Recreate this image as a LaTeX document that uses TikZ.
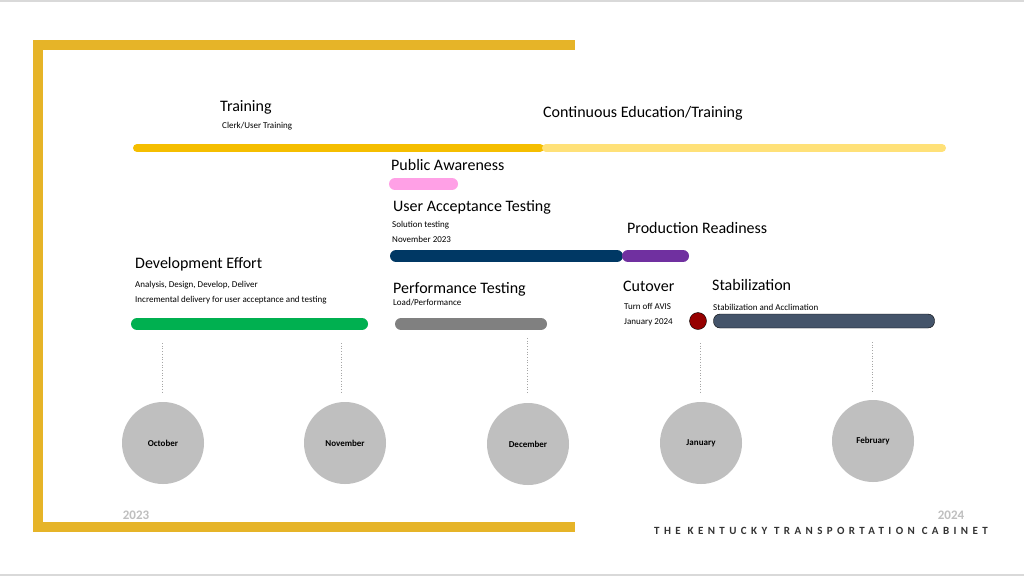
\documentclass[tikz,border=0pt]{standalone}
\usepackage{fontspec}
\setmainfont{Carlito}
\begin{document}
\begin{tikzpicture}[x=1pt,y=-1pt,
  big/.style={anchor=west,inner sep=0pt,font=\fontsize{16}{18}\selectfont},
  small/.style={anchor=west,inner sep=0pt,font=\fontsize{9}{10}\selectfont},
  bar/.style={line width=12pt,line cap=round},
  month/.style={circle,fill=mgray,minimum size=82pt,inner sep=0pt,font=\bfseries\fontsize{9}{10}\selectfont},
  vline/.style={draw=gray!70,dotted,line width=0.7pt}]
\definecolor{gold}{RGB}{230,180,40}
\definecolor{ylw}{RGB}{245,190,0}
\definecolor{lylw}{RGB}{255,225,120}
\definecolor{pinkb}{RGB}{255,160,230}
\definecolor{navy}{RGB}{0,56,100}
\definecolor{purp}{RGB}{112,48,160}
\definecolor{grn}{RGB}{0,176,80}
\definecolor{slate}{RGB}{68,84,106}
\definecolor{mgray}{RGB}{191,191,191}
\useasboundingbox (0,0) rectangle (1024,576);
\fill[white] (0,0) rectangle (1024,576);
\draw[gray!30,line width=1.5pt] (0,1) -- (1024,1) (0,575) -- (1024,575);
% frame
\fill[gold] (33,40) rectangle (575,50);
\fill[gold] (33,40) rectangle (43,532);
\fill[gold] (33,522) rectangle (575,532);
% bars
\draw[bar,line width=8pt,ylw] (137,148) coordinate (t1) -- (540,148) coordinate (t2);
\draw[bar,line width=8pt,lylw] (546,148) coordinate (c1) -- (942,148) coordinate (c2);
\draw[bar,pinkb] (395,184) coordinate (p1) -- (452,184) coordinate (p2);
\draw[bar,navy] (396,256) coordinate (u1) -- (617,256) coordinate (u2);
\draw[bar,purp] (628,256) coordinate (r1) -- (683,256) coordinate (r2);
\draw[bar,grn] (137,324) coordinate (d1) -- (362,324) coordinate (d2);
\draw[bar,gray] (401,324) coordinate (g1) -- (541,324) coordinate (g2);
\node[circle,fill={rgb,255:red,150;green,0;blue,0},draw=black,minimum size=17pt,inner sep=0pt] (cut) at (698,321) {};
\node[rounded corners=6.5pt,fill=slate,draw=black,minimum width=221pt,minimum height=14pt,inner sep=0pt] (stab) at (824,321) {};
% texts
\node[big] (tr) at (220,107) {Training};
\node[small] (tr2) at (222,126) {Clerk/User Training};
\node[big] (ce) at (543,113) {Continuous Education/Training};
\node[big] (pa) at (391,165) {Public Awareness};
\node[big] (ua) at (393,207) {User Acceptance Testing};
\node[small] (ua2) at (392,225) {Solution testing};
\node[small] (ua3) at (392,239) {November 2023};
\node[big] (pr) at (627,228) {Production Readiness};
\node[big] (de) at (135,264) {Development Effort};
\node[small] (de2) at (135,285) {Analysis, Design, Develop, Deliver};
\node[small] (de3) at (135,300) {Incremental delivery for user acceptance and testing};
\node[big] (pt) at (393,289) {Performance Testing};
\node[small] (pt2) at (393,303) {Load/Performance};
\node[big] (co) at (623,286) {Cutover};
\node[small] (co2) at (624,306) {Turn off AVIS};
\node[small] (co3) at (624,322) {January 2024};
\node[big] (st) at (712,285) {Stabilization};
\node[small] (st2) at (713,307) {Stabilization and Acclimation};
% months
\node[month] (m1) at (163,443) {October};
\node[month] (m2) at (345,443) {November};
\node[month] (m3) at (528,444) {December};
\node[month] (m4) at (701,443) {January};
\node[month] (m5) at (873,441) {};
\node[font=\bfseries\fontsize{9}{10}\selectfont] at (873,441) {February};
\coordinate (v1) at (162,343); \coordinate (v2) at (341,343); \coordinate (v3) at (527,338);
\coordinate (v4) at (700,343); \coordinate (v5) at (872,342);
\draw[vline] (v1) -- (162,393);
\draw[vline] (v2) -- (341,393);
\draw[vline] (v3) -- (527,394);
\draw[vline] (v4) -- (700,393);
\draw[vline] (v5) -- (872,392);
\node[font=\bfseries\fontsize{13}{14}\selectfont,text=mgray] (y1) at (136,515) {2023};
\node[font=\bfseries\fontsize{13}{14}\selectfont,text=mgray] (y2) at (951,515) {2024};
\node[font=\bfseries\fontsize{11}{12}\selectfont\addfontfeatures{LetterSpace=40},text=black!80,anchor=east,inner sep=0pt] (ktc) at (988,531) {THE KENTUCKY TRANSPORTATION CABINET};
\end{tikzpicture}
\end{document}
